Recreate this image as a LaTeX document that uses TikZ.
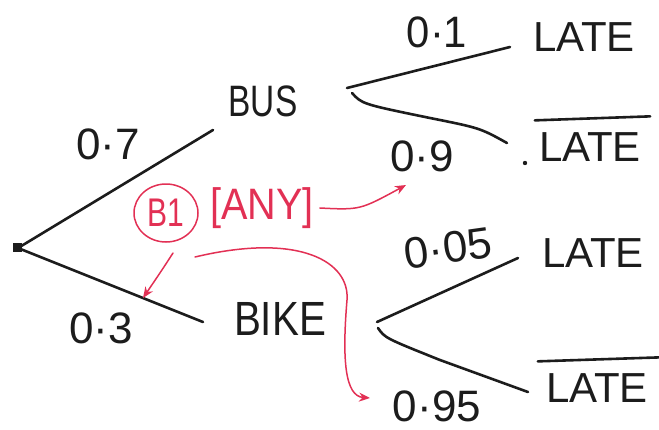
\documentclass[tikz,border=0pt]{standalone}
\usepackage{fontspec}
\setmainfont{Liberation Sans}
\usetikzlibrary{arrows.meta,shapes.geometric}
\definecolor{pen}{RGB}{28,28,28}
\definecolor{marker}{RGB}{226,48,84}
\begin{document}
\begin{tikzpicture}[x=1pt,y=-1pt,
  branch/.style={line width=2.6pt, draw=pen, line cap=round},
  word/.style={font=\fontsize{#1}{#1}\selectfont, text=pen, inner sep=0pt},
  word/.default=38,
  prob/.style={font=\fontsize{44}{44}\selectfont, text=pen, inner sep=0pt},
  marktext/.style={font=\fontsize{#1}{#1}\selectfont, text=marker, inner sep=0pt},
  note/.style={line width=1.5pt, draw=marker, line cap=round,
    -{Stealth[length=11pt,width=9pt]}}]
\useasboundingbox (0,0) rectangle (659,429);

% branch points of the tree
\coordinate (root)     at (18,248);
\coordinate (busEnd)   at (213,130);
\coordinate (bikeEnd)  at (203,322);
\coordinate (busFork)  at (347,88);
\coordinate (busForkB) at (352,93);
\coordinate (lateA)    at (510,47);
\coordinate (lateB)    at (507,143);
\coordinate (bikeFork) at (377,322);
\coordinate (bikeForkB) at (378,328);
\coordinate (lateC)    at (518,258);
\coordinate (lateD)    at (528,392);

% first stage
\draw[branch] (root) -- (busEnd);
\draw[branch] (root) -- (bikeEnd);
\fill[pen] ([shift={(-5,-5)}]root) rectangle ([shift={(4,4)}]root);

% second stage
\draw[branch] (busFork) -- (lateA);
\draw[branch] (busForkB) .. controls (362,104) .. (430,118) .. controls (480,128) .. (lateB);
\draw[branch] (bikeFork) -- (lateC);
\draw[branch] (bikeForkB) .. controls (385,338) .. (440,360) -- (lateD);

% labels
\node[word=44, xscale=0.76] (bus)  at (263,101) {BUS};
\node[word=48, xscale=0.84] (bike) at (280,319) {BIKE};
\node[prob] (p07)  at (108,144) {0·7};
\node[prob] (p03)  at (101,328) {0·3};
\node[prob, xscale=0.95] (p01)  at (437,32)  {0·1};
\node[prob] (p09)  at (422,156) {0·9};
\node[prob, rotate=8] (p005) at (448,248) {0·05};
\node[prob] (p095) at (437,406) {0·95};

\node[word=42] (late1) at (584,37)  {LATE};
\node[word=42] (late2) at (590,147) {LATE};
\node[word=42] (late3) at (593,253) {LATE};
\node[word=42] (late4) at (597,388) {LATE};
\fill[pen] (525,163) circle (2.2pt);

% complement bars
\draw[branch] ([shift={(-4,-12)}]late2.north west) -- ([shift={(9,-16)}]late2.north east);
\draw[branch] ([shift={(-8,-12)}]late4.north west) -- ([shift={(12,-16)}]late4.north east);

% red marking
\node[marktext=40, xscale=0.75] (b1) at (166,213) {B1};
\draw[marker, line width=1.5pt] (b1) ellipse [x radius=32pt, y radius=29pt];
\node[marktext=44, xscale=0.9] (any) at (262,208) {[ANY]};

\coordinate (tip09)  at (406,185);
\coordinate (tip03)  at (143,298);
\coordinate (tip095) at (370,398);
\coordinate (loopStart) at (195,257);

\draw[note] ([xshift=6pt]any.east) .. controls (360,210) .. (tip09);
\draw[note] (173,253) .. controls (162,270) .. (tip03);
\draw[note] (loopStart) .. controls (300,232) and (350,262) .. (347,300)
  .. controls (342,360) and (345,396) .. (tip095);
\end{tikzpicture}
\end{document}
